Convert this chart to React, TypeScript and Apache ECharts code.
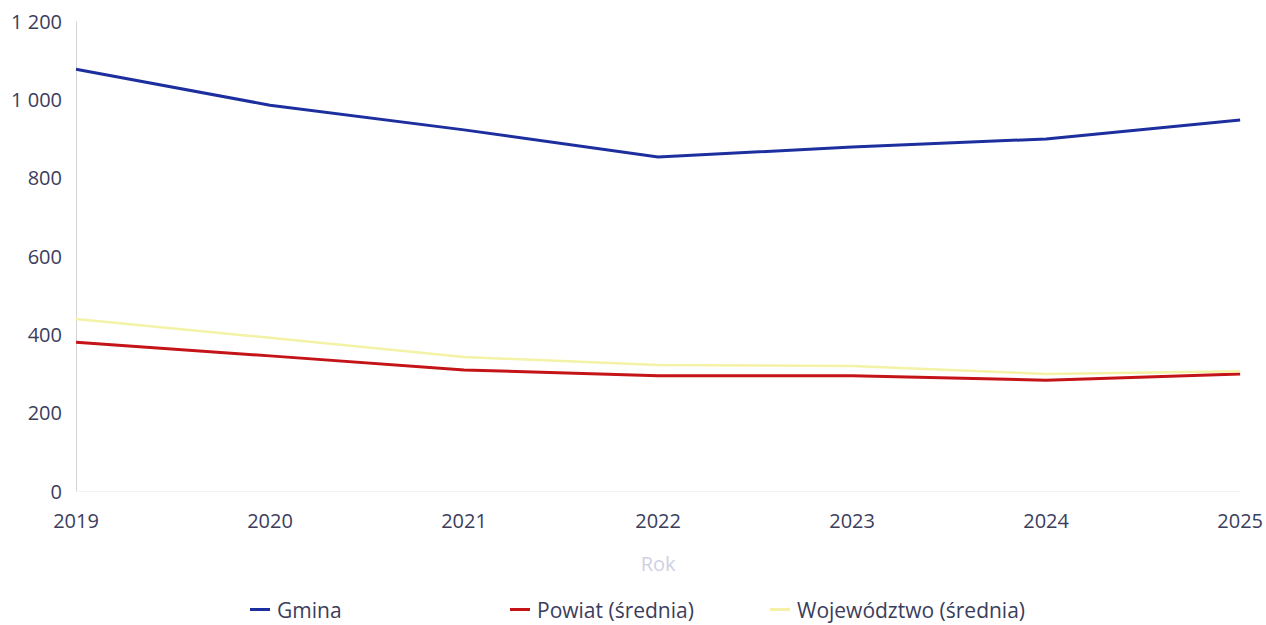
import React, { useEffect, useRef } from "react";
import * as echarts from "echarts";

const years = ["2019", "2020", "2021", "2022", "2023", "2024", "2025"];
const gmina = [1077, 985, 922, 853, 878, 899, 947];
const powiat = [380, 345, 309, 294, 294, 283, 299];
const wojewodztwo = [439, 391, 342, 322, 319, 299, 306];
const seriesNames = ["Gmina", "Powiat (średnia)", "Województwo (średnia)"];

const FONT = "'Open Sans', sans-serif";

export default function App() {
  const ref = useRef<HTMLDivElement>(null);
  useEffect(() => {
    if (!ref.current) return;
    const chart = echarts.init(ref.current, null, { renderer: "svg" });
    const legendBase = {
      top: 594,
      icon: "rect",
      itemWidth: 20,
      itemHeight: 3,
      itemGap: 8,
      textStyle: { fontFamily: FONT, fontSize: 21, color: "#3b3d5c", padding: [0, 0, 0, 2] },
    };
    chart.setOption({
      animation: false,
      backgroundColor: "#ffffff",
      textStyle: { fontFamily: FONT },
      grid: { left: 76, right: 25, top: 21, bottom: 134, containLabel: false },
      legend: [
        { ...legendBase, left: 245, data: [seriesNames[0]] },
        { ...legendBase, left: 505, data: [seriesNames[1]] },
        { ...legendBase, left: 765, data: [seriesNames[2]] },
      ],
      xAxis: {
        type: "category",
        data: years,
        boundaryGap: false,
        name: "Rok",
        nameLocation: "middle",
        nameGap: 62,
        nameTextStyle: { fontFamily: FONT, fontSize: 20, color: "#cfd0e2" },
        axisLine: { show: true, lineStyle: { color: "#f0f0f0", type: "dotted" } },
        axisTick: { show: false },
        axisLabel: { fontFamily: FONT, fontSize: 20, color: "#3b3d5c", margin: 19 },
        splitLine: { show: false },
      },
      yAxis: {
        type: "value",
        min: 0,
        max: 1200,
        interval: 200,
        axisLine: { show: true, lineStyle: { color: "#cccccc", type: "dotted" } },
        axisTick: { show: false },
        splitLine: { show: false },
        axisLabel: {
          fontFamily: FONT,
          fontSize: 20,
          color: "#3b3d5c",
          margin: 14,
          formatter: (v: number) => String(v).replace(/\B(?=(\d{3})+(?!\d))/g, " "),
        },
      },
      series: [
        {
          name: seriesNames[0],
          type: "line",
          data: gmina,
          symbol: "none",
          lineStyle: { color: "#1d2f9e", width: 3 },
          itemStyle: { color: "#1d2f9e" },
        },
        {
          name: seriesNames[1],
          type: "line",
          data: powiat,
          symbol: "none",
          lineStyle: { color: "#c41418", width: 3 },
          itemStyle: { color: "#c41418" },
        },
        {
          name: seriesNames[2],
          type: "line",
          data: wojewodztwo,
          symbol: "none",
          lineStyle: { color: "#f3f2a6", width: 2.5 },
          itemStyle: { color: "#f3f2a6" },
        },
      ],
    });
    return () => chart.dispose();
  }, []);
  return <div ref={ref} style={{ width: 1266, height: 625, position: "absolute", left: 0, top: 0 }} />;
}
